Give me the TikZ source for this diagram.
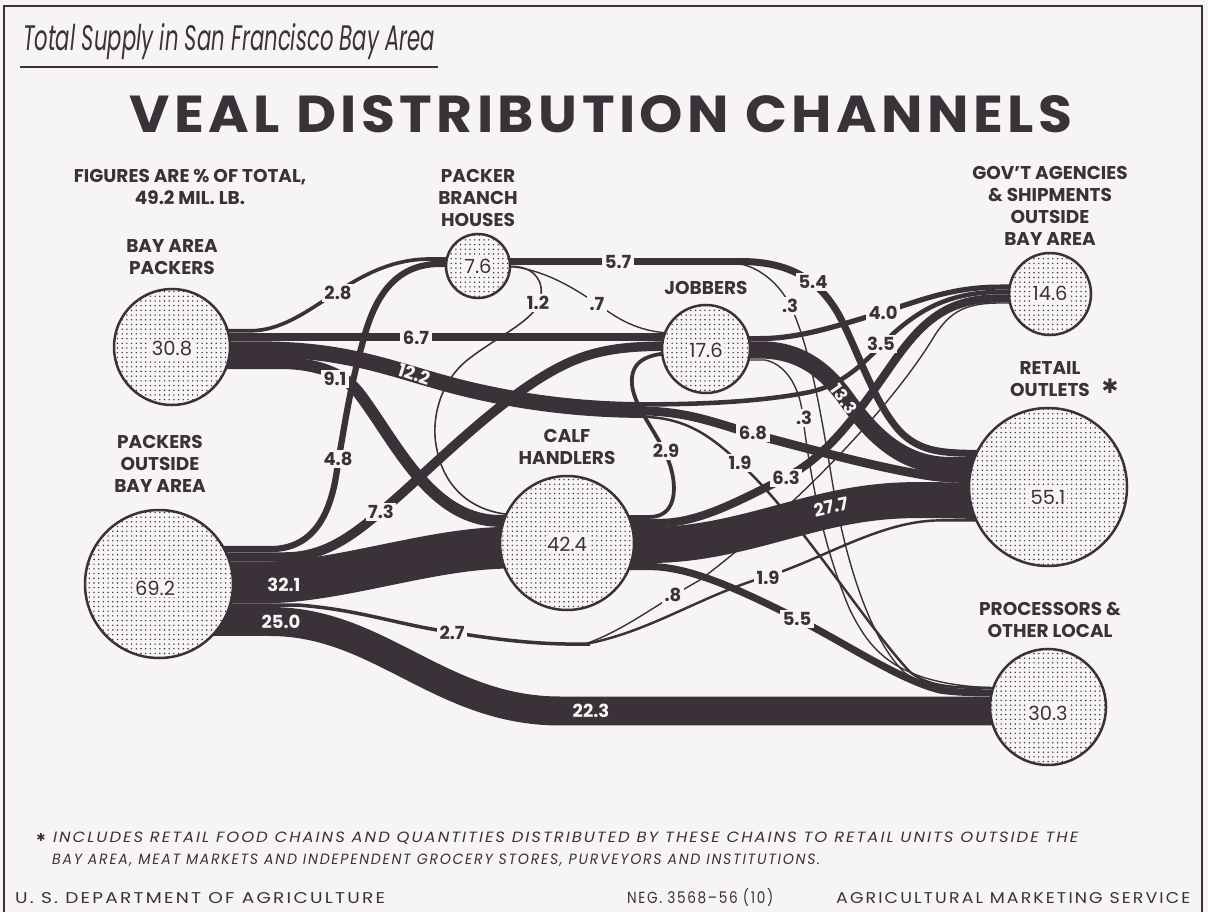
\documentclass[tikz,border=0pt]{standalone}
\usepackage{fontspec}
\setmainfont{Poppins}
\newfontfamily\djv{DejaVu Sans}
\newfontfamily\spaced[LetterSpace=12]{Poppins}
\newfontfamily\titlefont[LetterSpace=8]{Poppins}
\usetikzlibrary{patterns.meta}
\definecolor{paper}{RGB}{247,244,244}
\definecolor{ink}{RGB}{58,50,56}
\tikzset{
  band/.style={draw=ink, line width=1.3*#1pt, line cap=butt},
  thinband/.style={draw=ink, line width=1.4pt, line cap=butt},
  hub/.style={circle, draw=ink, line width=2.5pt, inner sep=0pt, preaction={fill=paper},
    pattern={Dots[distance=4.7pt, radius=0.8pt]}, pattern color=ink},
  num/.style={font=\fontsize{19.5}{21}\selectfont, text=ink, fill=paper, inner sep=1.5pt},
  capt/.style={font=\bfseries\fontsize{18.5}{22}\selectfont, text=ink, align=center},
  fl/.style={font=\bfseries\fontsize{18}{20}\selectfont, text=ink, fill=paper, inner sep=2.5pt},
  wl/.style={font=\bfseries\fontsize{18}{20}\selectfont, text=paper, inner sep=0.5pt},
  foot/.style={font=\spaced\itshape\fontsize{14}{14}\selectfont, text=ink, anchor=base west, inner sep=0pt},
  credit/.style={font=\spaced\fontsize{14}{14}\selectfont, text=ink, anchor=base west, inner sep=0pt},
}
\begin{document}
\begin{tikzpicture}[x=1pt,y=-1pt]
\useasboundingbox (0,0) rectangle (1208,912);
\fill[paper] (0,0) rectangle (1208,912);
\draw[ink, line width=2pt] (4,912) -- (4,6) -- (1202,6) -- (1202,912);

% ---- titles
\node[anchor=base west, inner sep=0pt, font=\itshape\fontsize{34}{34}\selectfont, text=ink] (sub) at (23,51) {\resizebox{412pt}{27pt}{Total Supply in San Francisco Bay Area}};
\draw[ink, line width=1.6pt] (20,67) -- (438,67);
\node[anchor=base, inner sep=0pt, font=\titlefont\bfseries\fontsize{50}{50}\selectfont, text=ink] (title) at (601,133) {\resizebox{942pt}{37pt}{VEAL DISTRIBUTION CHANNELS}};

% ---- end coordinates of the bands
\coordinate (bapA) at (172,330.8); \coordinate (bapB) at (172,337);
\coordinate (bapC) at (172,349.2); \coordinate (bapD) at (172,363.1);
\coordinate (poA) at (159,549.1); \coordinate (poB) at (159,557);
\coordinate (poC) at (159,582.6); \coordinate (poD) at (159,605.2);
\coordinate (poE) at (159,621.5);
\coordinate (pbhA) at (478,259); \coordinate (pbhB) at (478,263.9);
\coordinate (pbhC) at (478,261.5); \coordinate (pbhD) at (478,266.5);
\coordinate (pbhE) at (478,267);
\coordinate (jobA) at (706,337); \coordinate (jobB) at (706,346);
\coordinate (jobF) at (706,352.7); \coordinate (jobT) at (706,333.5);
\coordinate (jobC) at (706,338.6); \coordinate (jobD) at (706,349.9);
\coordinate (jobE) at (706,360);
\coordinate (calfT) at (567,515); \coordinate (calfA) at (567,520.9);
\coordinate (calfB) at (567,547.7);
\coordinate (calfC) at (567,516.9); \coordinate (calfD) at (567,522.9);
\coordinate (calfE) at (567,545); \coordinate (calfF) at (567,566.6);
\coordinate (govA) at (1050,287.1); \coordinate (govB) at (1050,292);
\coordinate (govC) at (1050,298.4); \coordinate (govD) at (1050,303);
\coordinate (retA) at (1048,453.5); \coordinate (retB) at (1048,465.6);
\coordinate (retC) at (1048,478.7); \coordinate (retD) at (1048,501.1);
\coordinate (retE) at (1048,520.4);
\coordinate (procT) at (1048,688); \coordinate (procB) at (1048,692.9);
\coordinate (procA) at (1048,711);
\coordinate (sp12) at (645,410); \coordinate (sp27) at (590,644);
\coordinate (sp57) at (745,261.5);

% ---- bands from Bay Area packers
\draw[band=2.8] (bapA) -- (250,330.8) .. controls (310,330.8) and (350,259) .. (430,259) -- (pbhA);
\draw[band=6.7] (bapB) -- (jobA);
\draw[band=12.2] (bapC) -- (255,349.2) .. controls (340,349.2) and (380,365) .. (440,382) .. controls (500,399) and (570,410) .. (sp12);
\draw[band=3.5] (640,404.4) .. controls (700,404.4) and (760,402) .. (810,392) .. controls (850,383) and (870,355) .. (895,332) .. controls (920,310) and (950,292) .. (1000,292) -- (govB);
\draw[band=6.8] (640,411) .. controls (690,411) and (720,425) .. (760,436) .. controls (820,452) and (880,468) .. (930,476) .. controls (950,478.7) and (965,478.7) .. (1000,478.7) -- (retC);
\draw[band=1.9] (640,416.7) .. controls (690,417) and (715,440) .. (745,468) .. controls (800,520) and (870,630) .. (910,672) .. controls (930,687) and (950,688) .. (1000,688) -- (procT);
\draw[band=9.1] (bapD) -- (280,363.1) .. controls (310,363.1) and (340,370) .. (358,392) .. controls (395,440) and (430,520.9) .. (500,520.9) -- (calfA);

% ---- bands from packers outside
\draw[band=4.8] (poA) -- (270,549.1) .. controls (310,549.1) and (330,520) .. (337,470) .. controls (345,420) and (352,380) .. (362,345) .. controls (372,305) and (390,263.9) .. (440,263.9) -- (pbhB);
\draw[band=7.3] (poB) -- (285,557) .. controls (330,557) and (360,530) .. (400,495) .. controls (450,450) and (520,380) .. (580,358) .. controls (610,347) and (640,346) .. (680,346) -- (jobB);
\draw[band=32.1] (poC) -- (260,582.6) .. controls (340,582.6) and (430,547.7) .. (510,547.7) -- (calfB);
\draw[band=2.7] (poD) -- (300,605.2) .. controls (360,610) and (400,625) .. (450,632) .. controls (500,640) and (540,645) .. (sp27);
\draw[thinband] (585,644) .. controls (625,630) and (655,605) .. (700,580) .. controls (790,512) and (890,410) .. (935,335) .. controls (950,312) and (965,303) .. (1000,303) -- (govD);
\draw[band=1.9] (585,644) .. controls (650,632) and (700,596) .. (765,577) .. controls (820,561) and (880,520.4) .. (940,520.4) -- (retE);
\draw[band=22.3] (poE) -- (270,621.5) .. controls (380,621.5) and (440,711) .. (560,711) -- (procA);

% ---- bands from packer branch houses
\draw[band=5.7] (pbhC) -- (sp57);
\draw[band=5.4] (740,261.5) .. controls (790,261.5) and (820,280) .. (840,317) .. controls (860,355) and (880,420) .. (910,440) .. controls (930,453.5) and (950,453.5) .. (1000,453.5) -- (retA);
\draw[thinband] (735,263) .. controls (760,266) and (780,285) .. (790,305) .. controls (810,345) and (822,420) .. (832,480) .. controls (845,560) and (870,640) .. (905,673) .. controls (925,687) and (945,688) .. (1000,688) -- (procT);
\draw[band=1.2] (pbhD) -- (515,266.5) .. controls (535,268) and (545,282) .. (540,300) .. controls (535,320) and (500,335) .. (470,358) .. controls (440,380) and (430,420) .. (437,450) .. controls (445,490) and (475,515) .. (520,515) -- (calfT);
\draw[thinband] (pbhE) -- (515,267) .. controls (550,272) and (580,292) .. (600,306) .. controls (620,320) and (640,333.5) .. (680,333.5) -- (jobT);

% ---- bands from jobbers
\draw[band=4.0] (jobC) -- (760,338.6) .. controls (800,338.6) and (840,325) .. (880,313) .. controls (920,301) and (950,287.1) .. (1000,287.1) -- (govA);
\draw[band=13.3] (jobD) -- (760,349.9) .. controls (800,349.9) and (825,370) .. (845,397) .. controls (870,432) and (900,465.6) .. (950,465.6) -- (retB);
\draw[thinband] (jobE) -- (765,360) .. controls (785,364) and (798,385) .. (802,410) .. controls (808,460) and (820,540) .. (850,610) .. controls (870,650) and (895,686) .. (1000,688) -- (procT);

% ---- bands from calf handlers
\draw[band=2.9] (calfC) -- (650,516.9) .. controls (675,516.9) and (678,490) .. (670,465) .. controls (660,435) and (635,410) .. (632,385) .. controls (630,362) and (645,352.7) .. (680,352.7) -- (jobF);
\draw[band=6.3] (calfD) -- (660,522.9) .. controls (700,522.9) and (740,500) .. (785,478) .. controls (830,455) and (860,410) .. (895,360) .. controls (925,318) and (950,298.4) .. (1000,298.4) -- (govC);
\draw[band=27.7] (calfE) -- (650,545) .. controls (720,545) and (780,520) .. (840,508) .. controls (900,496) and (930,501.1) .. (1000,501.1) -- (retD);
\draw[band=5.5] (calfF) -- (650,566.6) .. controls (690,566.6) and (740,590) .. (796,618) .. controls (850,646) and (900,680) .. (940,690) .. controls (960,692.9) and (980,692.9) .. (1000,692.9) -- (procB);

% ---- circles
\node[hub, minimum size=116pt] (bap) at (172,347) {};
\node[hub, minimum size=64pt] (pbh) at (478,266) {};
\node[hub, minimum size=88pt] (job) at (706,349) {};
\node[hub, minimum size=134pt] (calf) at (567,543) {};
\node[hub, minimum size=148pt] (pob) at (159,584) {};
\node[hub, minimum size=82pt] (gov) at (1050,294) {};
\node[hub, minimum size=158pt] (ret) at (1048,487) {};
\node[hub, minimum size=116pt] (proc) at (1048,707) {};

\node[num] (bapv) at (172,349) {30.8};
\node[num] (pbhv) at (478,266) {7.6};
\node[num] (jobv) at (706,350) {17.6};
\node[num] (calfv) at (567,544) {42.4};
\node[num] (pobv) at (155,588) {69.2};
\node[num] (govv) at (1050,293) {14.6};
\node[num] (retv) at (1048,497) {55.1};
\node[num] (procv) at (1048,713) {30.3};

% ---- captions
\node[capt] (capfig) at (190,187) {FIGURES ARE \% OF TOTAL,\\49.2 MIL. LB.};
\node[capt] (cappbh) at (478,198) {PACKER\\BRANCH\\HOUSES};
\node[capt] (capbap) at (172,257) {BAY AREA\\PACKERS};
\node[capt] (capjob) at (706,288) {JOBBERS};
\node[capt] (capcalf) at (567,447) {CALF\\HANDLERS};
\node[capt] (cappob) at (160,464) {PACKERS\\OUTSIDE\\BAY AREA};
\node[capt] (capgov) at (1050,206) {GOV'T AGENCIES\\\& SHIPMENTS\\OUTSIDE\\BAY AREA};
\node[capt] (capret) at (1050,379) {RETAIL\\OUTLETS};
\node[font=\djv\fontsize{20}{20}\selectfont, text=ink] (star) at (1110,386) {✱};
\node[capt] (capproc) at (1050,620) {PROCESSORS \&\\OTHER LOCAL};

% ---- flow labels
\node[fl] (l28) at (338,293) {2.8};
\node[fl] (l67) at (416,338) {6.7};
\node[fl] (l91) at (335,379) {9.1};
\node[fl] (l48) at (338,459) {4.8};
\node[fl] (l73) at (381,512) {7.3};
\node[fl] (l57) at (618,262) {5.7};
\node[fl] (l12) at (538,303) {1.2};
\node[fl] (l07) at (597,304) {.7};
\node[fl] (l54) at (813,282) {5.4};
\node[fl] (l03a) at (790,306) {.3};
\node[fl] (l40) at (883,313) {4.0};
\node[fl] (l35) at (881,344) {3.5};
\node[fl] (l03b) at (804,418) {.3};
\node[fl] (l68) at (753,433) {6.8};
\node[fl] (l29) at (666,451) {2.9};
\node[fl] (l19a) at (740,463) {1.9};
\node[fl] (l63) at (786,478) {6.3};
\node[fl] (l08) at (673,595) {.8};
\node[fl] (l19b) at (768,578) {1.9};
\node[fl] (l27) at (452,633) {2.7};
\node[fl] (l55) at (797,619) {5.5};
\node[wl, rotate=-18] (l122) at (414,374) {12.2};
\node[wl, rotate=-55, font=\bfseries\fontsize{17}{18}\selectfont] (l133) at (844,399) {13.3};
\node[wl, rotate=12] (l277) at (831,507) {27.7};
\node[wl] (l321) at (284,585) {32.1};
\node[wl] (l250) at (281,622) {25.0};
\node[wl] (l223) at (591,711) {22.3};

% ---- footnote and credits
\node[font=\djv\fontsize{11}{11}\selectfont, text=ink] (fnstar) at (41,837) {✱};
\node[foot] (fn1) at (53,842) {\resizebox{1025pt}{10.5pt}{INCLUDES RETAIL FOOD CHAINS AND QUANTITIES DISTRIBUTED BY THESE CHAINS TO RETAIL UNITS OUTSIDE THE}};
\node[foot] (fn2) at (52,864) {\resizebox{768pt}{10.5pt}{BAY AREA, MEAT MARKETS AND INDEPENDENT GROCERY STORES, PURVEYORS AND INSTITUTIONS.}};
\node[credit] (usda) at (15,903) {\resizebox{370pt}{11pt}{U. S. DEPARTMENT OF AGRICULTURE}};
\node[credit] (neg) at (627,903) {\resizebox{146pt}{15pt}{NEG. 3568–56 (10)}};
\node[credit] (ams) at (836,903) {\resizebox{354pt}{11pt}{AGRICULTURAL MARKETING SERVICE}};
\end{tikzpicture}
\end{document}
